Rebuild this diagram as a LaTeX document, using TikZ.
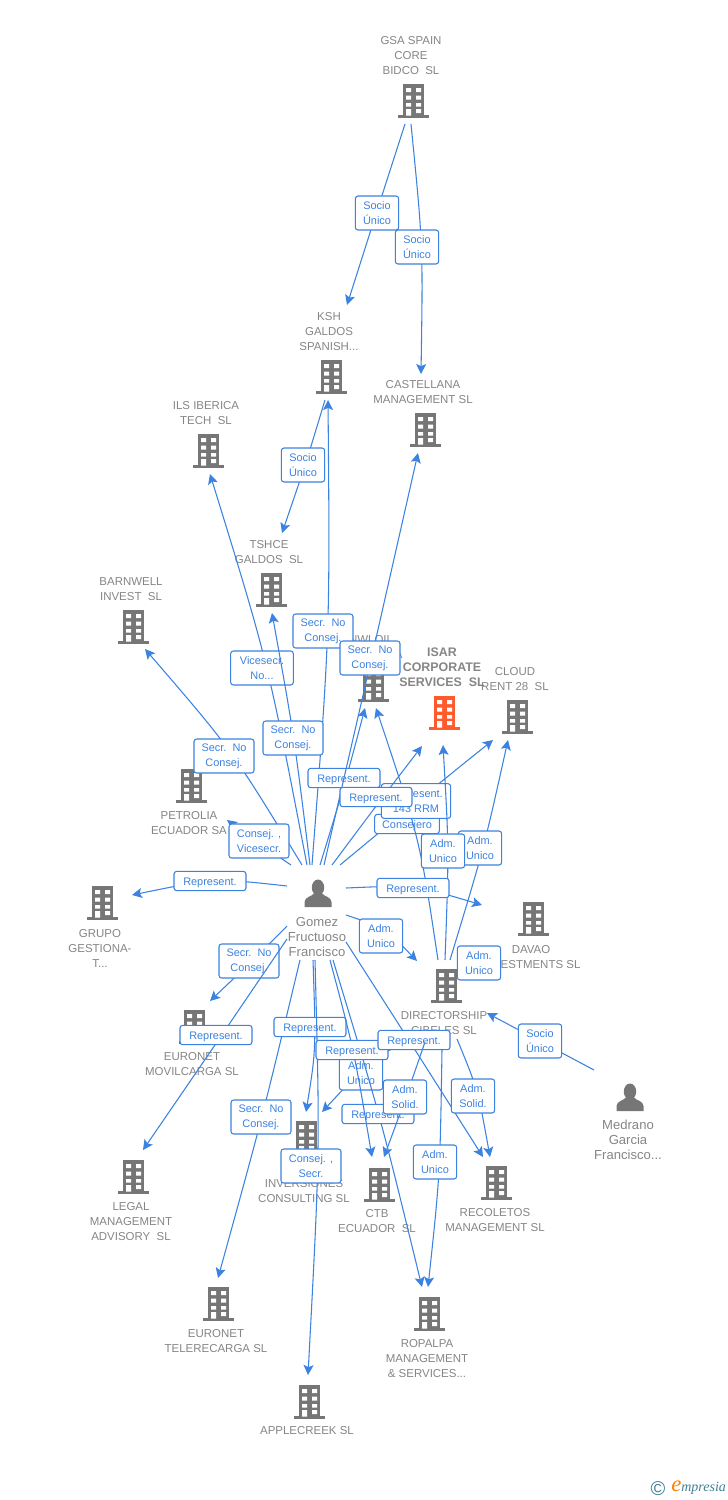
\documentclass[tikz,border=0pt]{standalone}
\usepackage{fontspec}
\setmainfont{Liberation Sans}
\newfontfamily\logofont{Liberation Serif}
\usetikzlibrary{arrows.meta}
\definecolor{linkblue}{HTML}{3C82E0}
\definecolor{txtgrey}{HTML}{858585}
\definecolor{icongrey}{HTML}{767676}
\definecolor{isarorange}{HTML}{FF5A2B}
\definecolor{logoblue}{HTML}{3F7F95}
\tikzset{
  conn/.style={draw=linkblue,line width=0.8pt,-{Stealth[length=7.5pt,width=7.5pt,inset=1.6pt]}},
  lbl/.style={draw=linkblue,line width=0.8pt,rounded corners=2pt,fill=white,text=linkblue,
    font=\fontsize{8.2pt}{11.25pt}\selectfont,align=center,inner sep=0pt,outer sep=0pt},
  twoL/.style={lbl,minimum width=45pt,minimum height=25.5pt},
  twoS/.style={lbl,minimum width=32.5pt,minimum height=25.5pt},
  oneL/.style={lbl,minimum width=54pt,minimum height=14.5pt,text height=6.6pt,text depth=0pt},
  cname/.style={text=txtgrey,font=\fontsize{8.6pt}{11.25pt}\selectfont,align=center,inner sep=0pt,anchor=center,yshift=-0.75pt},
  pname/.style={cname,font=\fontsize{9.8pt}{11.25pt}\selectfont},
  isarname/.style={text=txtgrey,font=\bfseries\fontsize{9.3pt}{11.25pt}\selectfont,align=center,inner sep=0pt},
  icon/.style={inner sep=0pt,minimum size=0pt}
}
% building icon: name, x, y, colour
\newcommand{\bldg}[4]{%
  \node[icon] (#1) at (#2,#3) {};
  \begin{scope}[shift={(#2,#3)}]
    \fill[#4] (-10.5,-17) rectangle (11,14.5);
    \fill[#4] (-15.5,14) rectangle (15.5,17);
    \fill[white] (-7,-13) rectangle (-2,-9) (3,-13) rectangle (8,-9)
      (-7,-5.5) rectangle (-2,-1.5) (3,-5.5) rectangle (8,-1.5)
      (-7,2) rectangle (-2,5.5) (3,2) rectangle (8,5.5)
      (-7,8) rectangle (-2,14.5) (3,8) rectangle (8,12);
  \end{scope}}
% person icon: name, x, y
\newcommand{\persona}[3]{%
  \node[icon] (#1) at (#2,#3) {};
  \begin{scope}[shift={(#2,#3)}]
    \fill[icongrey] (0,-5.5) ellipse (6.2 and 8);
    \fill[icongrey] (-13.5,14) -- (-13.5,9) .. controls (-13.5,4) and (-6,3.5) .. (-3.5,0)
      -- (3.5,0) .. controls (6,3.5) and (13.5,4) .. (13.5,9) -- (13.5,14) -- cycle;
  \end{scope}}
% connector: from node, to node, start xy, control xy, end xy
\newcommand{\link}[5]{%
  \coordinate (#1-#2-s) at (#3);
  \coordinate (#1-#2-c) at (#4);
  \coordinate (#1-#2-e) at (#5);
  \draw[conn] (#1-#2-s) .. controls (#1-#2-c) .. (#1-#2-e);}
\begin{document}
\begin{tikzpicture}[x=0.75pt,y=-0.75pt]
\useasboundingbox (0,0) rectangle (728,1500);
% companies
\bldg{gsa}{413}{101}{icongrey}
\node[cname] (gsaT) at (411,55) {GSA SPAIN\\CORE\\BIDCO~~SL};
\bldg{ksh}{331}{377}{icongrey}
\node[cname] (kshT) at (329,331) {KSH\\GALDOS\\SPANISH...};
\bldg{cast}{425}{430}{icongrey}
\node[cname] (castT) at (423,391.5) {CASTELLANA\\MANAGEMENT SL};
\bldg{ils}{208}{451}{icongrey}
\node[cname] (ilsT) at (206,412.5) {ILS IBERICA\\TECH~~SL};
\bldg{tshce}{271}{590}{icongrey}
\node[cname] (tshceT) at (269,551.5) {TSHCE\\GALDOS~~SL};
\bldg{barn}{133}{627}{icongrey}
\node[cname] (barnT) at (131,588.5) {BARNWELL\\INVEST~~SL};
\bldg{nwl}{373}{685}{icongrey}
\node[cname] (nwlT) at (371,646.5) {NWLOIL\\INDONESIA};
\bldg{isar}{444}{713}{isarorange}
\node[isarname] (isarT) at (442,667) {ISAR\\CORPORATE\\SERVICES~~SL};
\bldg{cloud}{517}{717}{icongrey}
\node[cname] (cloudT) at (515,678.5) {CLOUD\\RENT 28~~SL};
\bldg{petro}{191}{786}{icongrey}
\node[cname] (petroT) at (189,822.5) {PETROLIA\\ECUADOR SA};
\bldg{grupo}{102}{903}{icongrey}
\node[cname] (grupoT) at (100,947) {GRUPO\\GESTIONA-\\T...};
\bldg{davao}{533}{919}{icongrey}
\node[cname] (davaoT) at (531,956.5) {DAVAO\\INVESTMENTS SL};
\bldg{direc}{446}{986}{icongrey}
\node[cname] (direcT) at (444,1022.5) {DIRECTORSHIP\\CIBELES SL};
\bldg{movil}{194}{1027}{icongrey}
\node[cname] (movilT) at (192,1063.5) {EURONET\\MOVILCARGA SL};
\bldg{inver}{306}{1138}{icongrey}
\node[cname] (inverT) at (304,1190.5) {INVERSIONES\\CONSULTING SL};
\bldg{legal}{133}{1177}{icongrey}
\node[cname] (legalT) at (131,1221) {LEGAL\\MANAGEMENT\\ADVISORY~~SL};
\bldg{ctb}{379}{1185}{icongrey}
\node[cname] (ctbT) at (377,1220.5) {CTB\\ECUADOR~~SL};
\bldg{recol}{496}{1183}{icongrey}
\node[cname] (recolT) at (495,1219.5) {RECOLETOS\\MANAGEMENT SL};
\bldg{tele}{218}{1304}{icongrey}
\node[cname] (teleT) at (216,1340.5) {EURONET\\TELERECARGA SL};
\bldg{ropal}{429}{1314}{icongrey}
\node[cname] (ropalT) at (427,1358) {ROPALPA\\MANAGEMENT\\\& SERVICES...};
\bldg{apple}{309}{1402}{icongrey}
\node[cname] (appleT) at (307,1430) {APPLECREEK SL};
% persons
\persona{gomez}{318}{893}
\node[pname] (gomezT) at (317,936) {Gomez\\Fructuoso\\Francisco};
\persona{medrano}{630}{1097}
\node[pname] (medranoT) at (628,1139) {Medrano\\Garcia\\Francisco...};
% connectors, in stacking order
\link{gsa}{ksh}{405,124}{376,214}{347,305}
\node[twoS] (l1) at (377,213) {Socio\\Único};
\link{gsa}{cast}{411,124}{423,245}{421,374}
\node[twoS] (l2) at (417,247) {Socio\\Único};
\link{ksh}{tshce}{325,400}{306,463}{282,533}
\node[twoS] (l3) at (303,465) {Socio\\Único};
\link{gomez}{ksh}{312,865}{330,632}{328,400}
\node[twoL] (l4) at (323,631) {Secr.~~No\\Consej.};
\link{gomez}{ils}{307,865}{268,662}{210,474}
\node[twoL,minimum width=47pt] (l6) at (262,668) {Vicesecr.\\No...};
\link{gomez}{tshce}{310,865}{294,735}{272,613}
\node[twoL] (l7) at (293,738) {Secr.~~No\\Consej.};
\link{gomez}{barn}{302,865}{232,750}{145,649}
\node[twoL] (l8) at (224,756) {Secr.~~No\\Consej.};
\link{gomez}{petro}{291,865}{248,836}{227,820}
\node[twoL] (l9) at (259,841) {Consej. ,\\Vicesecr.};
\link{gomez}{nwl}{320,865}{346,780}{365,708}
\node[oneL] (l10) at (344,778) {Represent.};
\link{gomez}{cast}{324,865}{370,665}{418,453}
\node[twoL] (l5) at (370,658) {Secr.~~No\\Consej.};
\link{gomez}{cloud}{340,865}{416,802}{493,740}
\node[lbl,minimum width=48.5pt,minimum height=14.5pt,text height=6.6pt,text depth=0pt] (l12) at (407,824) {Consejero};
\link{direc}{cloud}{450,960}{484,848}{508,740}
\node[twoS] (l15) at (480,848) {Adm.\\Unico};
\link{direc}{nwl}{438,960}{420,840}{376,708}
\node[lbl,minimum width=52pt,minimum height=26pt] (l13) at (416,801) {Represent.\\143 RRM};
\link{gomez}{isar}{332,865}{376,806}{422,746}
\node[oneL] (l11) at (376,797) {Represent.};
\link{direc}{isar}{445,960}{449,850}{443,745}
\node[twoS] (l14) at (443,851) {Adm.\\Unico};
\link{gomez}{davao}{346,888}{415,885}{482,905}
\node[oneL] (l16) at (413,888) {Represent.};
\link{gomez}{direc}{346,915}{385,928}{417,961}
\node[twoS] (l17) at (381,936) {Adm.\\Unico};
\node[twoS] (l17b) at (479,963) {Adm.\\Unico};
\link{gomez}{grupo}{287,886}{215,878}{132,895}
\node[oneL] (l18) at (210,881) {Represent.};
\link{gomez}{movil}{287,926}{249,964}{210,1001}
\node[twoL] (l19) at (249,961) {Secr.~~No\\Consej.};
\link{gomez}{legal}{287,939}{215,1045}{143,1150}
\node[oneL] (l20) at (216,1035) {Represent.};
\link{gomez}{tele}{300,960}{263,1115}{218,1278}
\node[twoL] (l21) at (261,1117) {Secr.~~No\\Consej.};
\link{gomez}{inver}{313,960}{316,1050}{306,1112}
\node[oneL] (l22) at (310,1027) {Represent.};
\link{gomez}{apple}{315,960}{320,1150}{308,1375}
\link{direc}{inver}{425,1035}{375,1055}{322,1112}
\node[twoS] (l27) at (361,1073) {Adm.\\Unico};
\link{direc}{ropal}{442,1050}{440,1175}{428,1287}
\node[twoS] (l30) at (435,1162) {Adm.\\Unico};
\link{gomez}{ropal}{333,960}{380,1115}{422,1287}
\node[oneL] (l25) at (378,1114) {Represent.};
\link{gomez}{ctb}{330,960}{354,1050}{372,1157}
\node[oneL] (l24) at (352,1050) {Represent.};
\link{gomez}{recol}{346,942}{412,1045}{483,1157}
\node[oneL] (l26) at (414,1040) {Represent.};
\link{direc}{ctb}{425,1042}{405,1100}{384,1157}
\node[twoS] (l28) at (405,1097) {Adm.\\Solid.};
\link{direc}{recol}{457,1039}{478,1090}{490,1157}
\node[twoS] (l29) at (473,1096) {Adm.\\Solid.};
\node[twoL] (l23) at (311,1166) {Consej. ,\\Secr.};
\coordinate (medrano-s) at (594,1070);
\coordinate (direc-e) at (487,1013);
\draw[conn] (medrano-s) -- (direc-e);
\node[twoS] (l31) at (540,1041) {Socio\\Único};
% logo
\node[inner sep=0pt,text=logoblue,font=\fontsize{15pt}{15pt}\selectfont] (copy) at (658,1489) {©};
\node[inner sep=0pt,anchor=west,font=\logofont\itshape\fontsize{10.5pt}{11pt}\selectfont,text=logoblue] (emp) at (671,1488)
  {\textcolor{orange}{\fontsize{17pt}{17pt}\selectfont e}mpresia};
\end{tikzpicture}
\end{document}
